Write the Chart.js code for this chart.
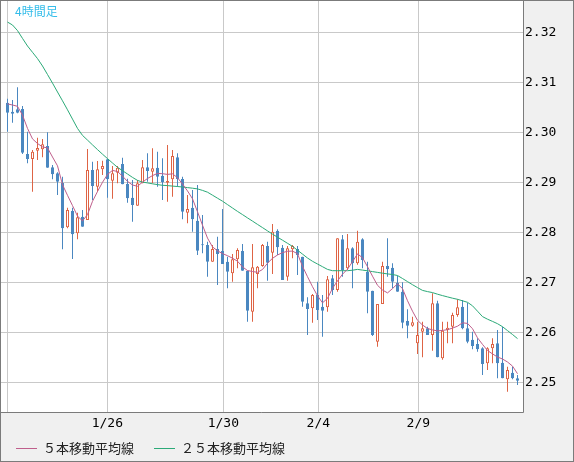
<!DOCTYPE html>
<html lang="ja">
<head>
<meta charset="UTF-8">
<title>4時間足</title>
<script src="https://cdn.jsdelivr.net/npm/chart.js@4.4.1/dist/chart.umd.min.js"></script>
<style>
    html, body { margin: 0; padding: 0; background: #f0f0f0; }
    canvas { display: block; }
</style>
</head>
<body>
<canvas id="candleChart" width="574" height="462"></canvas>
<script>
// 4h candles
const opens = [2.30593,2.30413,2.30460,2.30467,2.29567,2.29467,2.29633,2.29660,2.29727,2.29300,
    2.29180,2.28993,2.28100,2.28427,2.27980,2.28313,2.28247,2.29247,2.28913,2.29260,
    2.29460,2.29033,2.29193,2.29367,2.28967,2.28693,2.28533,2.28980,2.29300,2.29213,
    2.29293,2.29133,2.28993,2.29060,2.29500,2.29067,2.28393,2.28493,2.28233,2.27760,
    2.27747,2.27413,2.27667,2.27627,2.27413,2.27180,2.27460,2.27627,2.27233,2.26413,
    2.27167,2.27327,2.27727,2.27593,2.28033,2.27693,2.27113,2.27660,2.27667,2.27513,
    2.26580,2.26480,2.26747,2.26513,2.26500,2.27080,2.26847,2.27860,2.27280,2.27680,
    2.27380,2.27860,2.27213,2.26833,2.25813,2.26567,2.27327,2.27293,2.26993,2.26813,
    2.26227,2.26133,2.25780,2.26013,2.26080,2.25947,2.26580,2.25480,2.26047,2.26113,
    2.26347,2.26513,2.26080,2.25850,2.25767,2.25680,2.25380,2.25680,2.25780,2.25393,
    2.25060,2.25193,2.25080];
const highs = [2.30670,2.30647,2.30900,2.30527,2.30010,2.29647,2.29893,2.29867,2.30000,2.29347,
    2.29200,2.29113,2.28493,2.28493,2.28393,2.28447,2.29667,2.29413,2.29427,2.29433,
    2.29473,2.29327,2.29327,2.29493,2.29073,2.29047,2.29047,2.29447,2.29580,2.29680,
    2.29613,2.29480,2.29747,2.29647,2.29580,2.29113,2.28747,2.28847,2.28947,2.28347,
    2.27813,2.27747,2.27913,2.28467,2.27513,2.27567,2.27680,2.27767,2.27233,2.27767,
    2.27327,2.27767,2.27813,2.28167,2.28060,2.27747,2.27727,2.27747,2.27727,2.27513,
    2.26700,2.26767,2.27013,2.26747,2.27127,2.27147,2.27880,2.27947,2.27967,2.27700,
    2.28033,2.27880,2.27413,2.26833,2.26567,2.27413,2.27880,2.27380,2.27130,2.27000,
    2.26460,2.26313,2.26213,2.26213,2.26113,2.26780,2.26633,2.26213,2.26213,2.26393,
    2.26660,2.26647,2.26593,2.26013,2.25880,2.25700,2.25700,2.25880,2.26047,2.26113,
    2.25313,2.25313,2.25147];
const lows = [2.30013,2.30193,2.30380,2.29567,2.29380,2.28813,2.29447,2.29500,2.29293,2.29060,
    2.28747,2.27660,2.28080,2.27467,2.27860,2.28113,2.28247,2.28647,2.28813,2.29147,
    2.28693,2.28673,2.28980,2.28960,2.28593,2.28213,2.28533,2.28980,2.29013,2.28980,
    2.28913,2.28647,2.28613,2.28713,2.28913,2.28260,2.28180,2.28013,2.27547,2.27580,
    2.27113,2.27413,2.26947,2.27367,2.26880,2.27013,2.27280,2.27233,2.26213,2.26213,
    2.26880,2.27313,2.27033,2.27167,2.27547,2.27047,2.27033,2.27480,2.27147,2.26513,
    2.25947,2.26193,2.26247,2.25913,2.26413,2.26747,2.26813,2.27113,2.27247,2.26880,
    2.27350,2.27280,2.26380,2.25927,2.25713,2.26567,2.27113,2.26880,2.26813,2.26080,
    2.25880,2.26113,2.25567,2.25500,2.25947,2.25633,2.25500,2.25450,2.25780,2.25780,
    2.26310,2.26060,2.25780,2.25660,2.25613,2.25147,2.25247,2.25380,2.25080,2.25080,
    2.24813,2.25060,2.24947];
const closes = [2.30393,2.30373,2.30390,2.29593,2.29467,2.29613,2.29687,2.29760,2.29293,2.29160,
    2.29013,2.28080,2.28447,2.27960,2.28300,2.28113,2.29247,2.28927,2.29260,2.29327,
    2.29060,2.29180,2.29293,2.28960,2.28680,2.28547,2.28980,2.29300,2.29227,2.29280,
    2.29113,2.29000,2.29027,2.29527,2.29067,2.28413,2.28467,2.28260,2.27633,2.27740,
    2.27413,2.27667,2.27567,2.27367,2.27213,2.27460,2.27647,2.27233,2.26433,2.27300,
    2.27313,2.27747,2.27393,2.28013,2.27700,2.27047,2.27680,2.27727,2.27547,2.26613,
    2.26467,2.26747,2.26447,2.26433,2.27060,2.26847,2.27880,2.27247,2.27680,2.27380,
    2.27813,2.27447,2.26813,2.25947,2.26567,2.27327,2.27260,2.27013,2.26813,2.26193,
    2.26133,2.26200,2.25947,2.26080,2.25947,2.26580,2.25500,2.26033,2.26093,2.26347,
    2.26500,2.26080,2.25813,2.25727,2.25660,2.25367,2.25680,2.25767,2.25380,2.25080,
    2.25247,2.25080,2.25033];

// moving average lines as drawn
const ma5 = [2.30568,2.30546,2.30520,2.30342,2.30078,2.29868,2.29776,2.29708,2.29688,2.29506,
    2.29330,2.28952,2.28740,2.28534,2.28324,2.28228,2.28354,2.28620,2.28816,2.29000,
    2.29158,2.29238,2.29216,2.29122,2.29018,2.28946,2.28920,2.29004,2.29076,2.29134,
    2.29178,2.29172,2.29158,2.29170,2.29092,2.28966,2.28828,2.28670,2.28410,2.28142,
    2.27884,2.27708,2.27630,2.27574,2.27532,2.27482,2.27422,2.27308,2.27236,2.27216,
    2.27200,2.27256,2.27382,2.27480,2.27546,2.27594,2.27620,2.27624,2.27572,2.27320,
    2.27112,2.26912,2.26730,2.26590,2.26678,2.26880,2.27028,2.27162,2.27262,2.27412,
    2.27568,2.27492,2.27312,2.27122,2.26940,2.26846,2.26788,2.26874,2.26970,2.26874,
    2.26632,2.26422,2.26240,2.26146,2.26076,2.26048,2.26028,2.26038,2.26052,2.26084,
    2.26122,2.26190,2.26178,2.26072,2.25890,2.25758,2.25636,2.25568,2.25506,2.25466,
    2.25406,2.25324,2.25172];
const ma25 = [2.32205,2.32146,2.32034,2.31878,2.31726,2.31600,2.31474,2.31326,2.31156,2.30984,
    2.30806,2.30630,2.30450,2.30264,2.30078,2.29938,2.29844,2.29748,2.29654,2.29562,
    2.29474,2.29386,2.29300,2.29232,2.29166,2.29098,2.29038,2.29004,2.28988,2.28970,
    2.28954,2.28940,2.28934,2.28924,2.28916,2.28906,2.28894,2.28882,2.28868,2.28838,
    2.28802,2.28742,2.28682,2.28622,2.28554,2.28486,2.28418,2.28354,2.28288,2.28224,
    2.28158,2.28094,2.28028,2.27964,2.27902,2.27842,2.27780,2.27718,2.27642,2.27564,
    2.27486,2.27420,2.27366,2.27312,2.27258,2.27232,2.27232,2.27232,2.27232,2.27242,
    2.27258,2.27244,2.27230,2.27214,2.27198,2.27182,2.27168,2.27156,2.27136,2.27076,
    2.27014,2.26952,2.26894,2.26838,2.26814,2.26794,2.26762,2.26734,2.26708,2.26682,
    2.26660,2.26630,2.26600,2.26530,2.26422,2.26314,2.26262,2.26218,2.26172,2.26112,
    2.26034,2.25956,2.25874];

// date gridlines, in candle positions
const dateTickIdx = [-0.04, 19.96, 43.16, 62.16, 82.16];
const dateTickLabels = ['', '1/26', '1/30', '2/4', '2/9'];
const priceTicks = [2.25, 2.26, 2.27, 2.28, 2.29, 2.30, 2.31, 2.32];

const upColor = '#de6445';
const downColor = '#4a87c0';
const ma5Color = '#bf5f8c';
const ma25Color = '#2caa78';
const monoFont = { family: "'DejaVu Sans Mono', monospace", size: 13 };

const isUp = i => closes[i] >= opens[i];
const idx = opens.map((_, i) => i);

// background, frame, title and legend
const framePlugin = {
    id: 'frame',
    beforeDraw(chart) {
        const { ctx, chartArea: a, width, height } = chart;
        ctx.save();
        ctx.fillStyle = '#f0f0f0';
        ctx.fillRect(0, 0, width, height);
        ctx.fillStyle = '#ffffff';
        ctx.fillRect(a.left, a.top, a.right - a.left, a.bottom - a.top);
        ctx.restore();
    },
    afterDraw(chart) {
        const { ctx, chartArea: a, width, height } = chart;
        ctx.save();
        ctx.strokeStyle = '#7b7b7b';
        ctx.lineWidth = 1;
        ctx.beginPath();
        ctx.moveTo(a.right + 0.5, 0);
        ctx.lineTo(a.right + 0.5, a.bottom + 0.5);
        ctx.moveTo(0, a.bottom + 0.5);
        ctx.lineTo(a.right + 0.5, a.bottom + 0.5);
        ctx.stroke();
        ctx.strokeRect(0.5, 0.5, width - 1, height - 1);

        ctx.fillStyle = '#35bdea';
        ctx.font = "12px 'Noto Sans CJK JP'";
        ctx.textBaseline = 'middle';
        ctx.fillText('4時間足', 15, 11);

        ctx.font = "13px 'Noto Sans CJK JP'";
        ctx.fillStyle = '#222';
        let x = 16;
        const y = 448.5;
        chart.data.datasets.slice(0, 2).forEach(ds => {
            ctx.strokeStyle = ds.borderColor;
            ctx.beginPath();
            ctx.moveTo(x, y);
            ctx.lineTo(x + 21, y);
            ctx.stroke();
            ctx.fillText(ds.label, x + 27, y);
            x += 27 + ctx.measureText(ds.label).width + 20;
        });
        ctx.restore();
    }
};

new Chart(document.getElementById('candleChart'), {
    type: 'bar',
    data: {
        datasets: [
            {
                type: 'line',
                label: '５本移動平均線',
                data: idx.map(i => ({ x: i, y: ma5[i] })),
                borderColor: ma5Color,
                borderWidth: 1,
                pointRadius: 0,
                tension: 0,
                order: 1
            },
            {
                type: 'line',
                label: '２５本移動平均線',
                data: idx.map(i => ({ x: i, y: ma25[i] })),
                borderColor: ma25Color,
                borderWidth: 1,
                pointRadius: 0,
                tension: 0,
                order: 2
            },
            {
                label: 'body',
                data: idx.map(i => ({ x: i, y: [opens[i], closes[i]] })),
                backgroundColor: ctx => isUp(ctx.dataIndex) ? '#ffffff' : downColor,
                borderColor: ctx => isUp(ctx.dataIndex) ? upColor : downColor,
                borderWidth: 1,
                borderSkipped: false,
                barThickness: 3,
                grouped: false,
                inflateAmount: 0,
                order: 3
            },
            {
                label: 'wick',
                data: idx.map(i => ({ x: i, y: [lows[i], highs[i]] })),
                backgroundColor: ctx => isUp(ctx.dataIndex) ? upColor : downColor,
                borderWidth: 0,
                barThickness: 1,
                grouped: false,
                inflateAmount: 0,
                order: 4
            }
        ]
    },
    options: {
        responsive: false,
        animation: false,
        devicePixelRatio: 1,
        layout: { padding: { left: 1, top: 1, right: 0, bottom: 0 } },
        plugins: {
            legend: { display: false },
            tooltip: { enabled: false }
        },
        scales: {
            x: {
                type: 'linear',
                min: -1.3,
                max: 103.1,
                offset: false,
                afterBuildTicks: s => { s.ticks = dateTickIdx.map(v => ({ value: v })); },
                afterFit: s => {
                    s.height = 50;
                    s.paddingLeft = 0;
                    s.paddingRight = 0;
                },
                ticks: {
                    callback: (v, i) => dateTickLabels[i],
                    autoSkip: false,
                    maxRotation: 0,
                    padding: 4,
                    color: '#000',
                    font: monoFont
                },
                grid: { color: '#c9c9c9', drawTicks: false, offset: false },
                border: { display: false }
            },
            y: {
                position: 'right',
                min: 2.24406,
                max: 2.32626,
                afterBuildTicks: s => { s.ticks = priceTicks.map(v => ({ value: v })); },
                afterFit: s => {
                    s.width = 51;
                    s.paddingTop = 0;
                    s.paddingBottom = 0;
                },
                ticks: {
                    callback: v => v.toFixed(2),
                    padding: 2,
                    color: '#000',
                    font: monoFont
                },
                grid: { color: '#c9c9c9', drawTicks: false },
                border: { display: false }
            }
        }
    },
    plugins: [framePlugin]
});
</script>
</body>
</html>
